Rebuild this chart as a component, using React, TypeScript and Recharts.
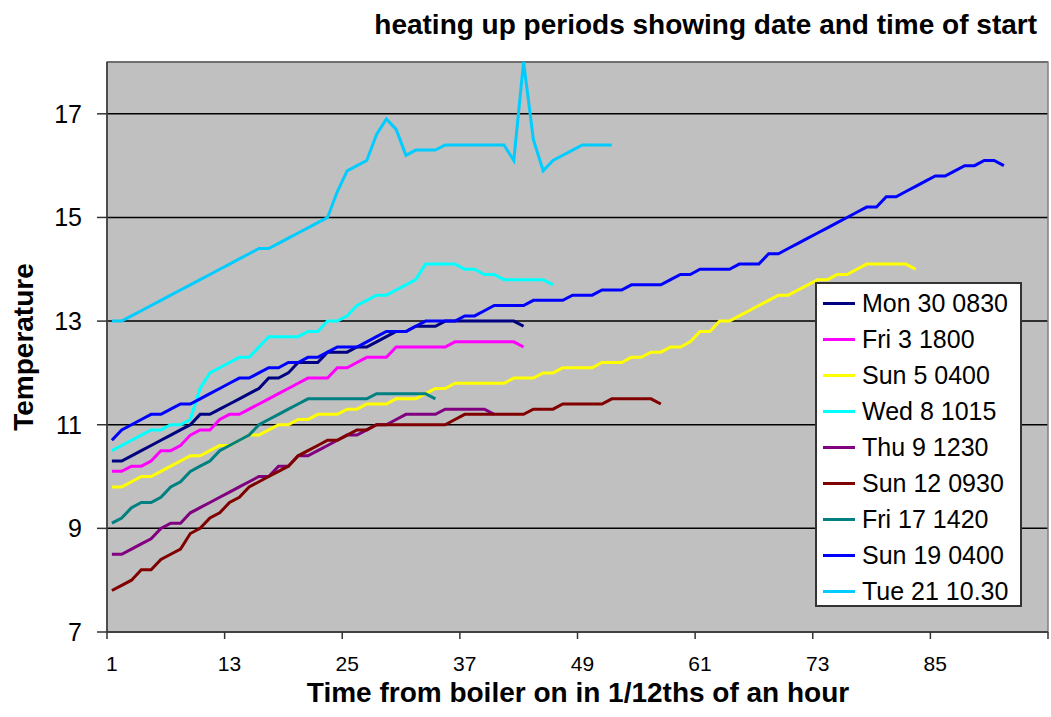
import React from "react";
import { LineChart, Line, XAxis, YAxis, CartesianGrid, ReferenceArea } from "recharts";

// time steps, 1/12ths of an hour after the boiler comes on
const categories = Array.from({ length: 96 }, (_, i) => i + 1);
const xTickLabels = [1, 13, 25, 37, 49, 61, 73, 85];
const yTicks = [7, 9, 11, 13, 15, 17];

const mon30 = [
  10.3, 10.3, 10.4, 10.5, 10.6, 10.7, 10.8, 10.9, 11.0, 11.2,
  11.2, 11.3, 11.4, 11.5, 11.6, 11.7, 11.9, 11.9, 12.0, 12.2,
  12.2, 12.2, 12.4, 12.4, 12.4, 12.5, 12.5, 12.6, 12.7, 12.8,
  12.8, 12.9, 12.9, 12.9, 13.0, 13.0, 13.0, 13.0, 13.0, 13.0,
  13.0, 13.0, 12.9,
];
const fri3 = [
  10.1, 10.1, 10.2, 10.2, 10.3, 10.5, 10.5, 10.6, 10.8, 10.9,
  10.9, 11.1, 11.2, 11.2, 11.3, 11.4, 11.5, 11.6, 11.7, 11.8,
  11.9, 11.9, 11.9, 12.1, 12.1, 12.2, 12.3, 12.3, 12.3, 12.5,
  12.5, 12.5, 12.5, 12.5, 12.5, 12.6, 12.6, 12.6, 12.6, 12.6,
  12.6, 12.6, 12.5,
];
const sun5 = [
  9.8, 9.8, 9.9, 10.0, 10.0, 10.1, 10.2, 10.3, 10.4, 10.4,
  10.5, 10.6, 10.6, 10.7, 10.8, 10.8, 10.9, 11.0, 11.0, 11.1,
  11.1, 11.2, 11.2, 11.2, 11.3, 11.3, 11.4, 11.4, 11.4, 11.5,
  11.5, 11.5, 11.6, 11.7, 11.7, 11.8, 11.8, 11.8, 11.8, 11.8,
  11.8, 11.9, 11.9, 11.9, 12.0, 12.0, 12.1, 12.1, 12.1, 12.1,
  12.2, 12.2, 12.2, 12.3, 12.3, 12.4, 12.4, 12.5, 12.5, 12.6,
  12.8, 12.8, 13.0, 13.0, 13.1, 13.2, 13.3, 13.4, 13.5, 13.5,
  13.6, 13.7, 13.8, 13.8, 13.9, 13.9, 14.0, 14.1, 14.1, 14.1,
  14.1, 14.1, 14.0,
];
const wed8 = [
  10.5, 10.6, 10.7, 10.8, 10.9, 10.9, 11.0, 11.0, 11.1, 11.7,
  12.0, 12.1, 12.2, 12.3, 12.3, 12.5, 12.7, 12.7, 12.7, 12.7,
  12.8, 12.8, 13.0, 13.0, 13.1, 13.3, 13.4, 13.5, 13.5, 13.6,
  13.7, 13.8, 14.1, 14.1, 14.1, 14.1, 14.0, 14.0, 13.9, 13.9,
  13.8, 13.8, 13.8, 13.8, 13.8, 13.7,
];
const thu9 = [
  8.5, 8.5, 8.6, 8.7, 8.8, 9.0, 9.1, 9.1, 9.3, 9.4,
  9.5, 9.6, 9.7, 9.8, 9.9, 10.0, 10.0, 10.2, 10.2, 10.4,
  10.4, 10.5, 10.6, 10.7, 10.8, 10.8, 10.9, 11.0, 11.0, 11.1,
  11.2, 11.2, 11.2, 11.2, 11.3, 11.3, 11.3, 11.3, 11.3, 11.2,
];
const sun12 = [
  7.8, 7.9, 8.0, 8.2, 8.2, 8.4, 8.5, 8.6, 8.9, 9.0,
  9.2, 9.3, 9.5, 9.6, 9.8, 9.9, 10.0, 10.1, 10.2, 10.4,
  10.5, 10.6, 10.7, 10.7, 10.8, 10.9, 10.9, 11.0, 11.0, 11.0,
  11.0, 11.0, 11.0, 11.0, 11.0, 11.1, 11.2, 11.2, 11.2, 11.2,
  11.2, 11.2, 11.2, 11.3, 11.3, 11.3, 11.4, 11.4, 11.4, 11.4,
  11.4, 11.5, 11.5, 11.5, 11.5, 11.5, 11.4,
];
const fri17 = [
  9.1, 9.2, 9.4, 9.5, 9.5, 9.6, 9.8, 9.9, 10.1, 10.2,
  10.3, 10.5, 10.6, 10.7, 10.8, 11.0, 11.1, 11.2, 11.3, 11.4,
  11.5, 11.5, 11.5, 11.5, 11.5, 11.5, 11.5, 11.6, 11.6, 11.6,
  11.6, 11.6, 11.6, 11.5,
];
const sun19 = [
  10.7, 10.9, 11.0, 11.1, 11.2, 11.2, 11.3, 11.4, 11.4, 11.5,
  11.6, 11.7, 11.8, 11.9, 11.9, 12.0, 12.1, 12.1, 12.2, 12.2,
  12.3, 12.3, 12.4, 12.5, 12.5, 12.5, 12.6, 12.7, 12.8, 12.8,
  12.8, 12.9, 13.0, 13.0, 13.0, 13.0, 13.1, 13.1, 13.2, 13.3,
  13.3, 13.3, 13.3, 13.4, 13.4, 13.4, 13.4, 13.5, 13.5, 13.5,
  13.6, 13.6, 13.6, 13.7, 13.7, 13.7, 13.7, 13.8, 13.9, 13.9,
  14.0, 14.0, 14.0, 14.0, 14.1, 14.1, 14.1, 14.3, 14.3, 14.4,
  14.5, 14.6, 14.7, 14.8, 14.9, 15.0, 15.1, 15.2, 15.2, 15.4,
  15.4, 15.5, 15.6, 15.7, 15.8, 15.8, 15.9, 16.0, 16.0, 16.1,
  16.1, 16.0,
];
const tue21 = [
  13.0, 13.0, 13.1, 13.2, 13.3, 13.4, 13.5, 13.6, 13.7, 13.8,
  13.9, 14.0, 14.1, 14.2, 14.3, 14.4, 14.4, 14.5, 14.6, 14.7,
  14.8, 14.9, 15.0, 15.5, 15.9, 16.0, 16.1, 16.6, 16.9, 16.7,
  16.2, 16.3, 16.3, 16.3, 16.4, 16.4, 16.4, 16.4, 16.4, 16.4,
  16.4, 16.1, 18.0, 16.5, 15.9, 16.1, 16.2, 16.3, 16.4, 16.4,
  16.4, 16.4,
];

const series = [
  { key: "mon30", name: "Mon 30 0830", values: mon30 },
  { key: "fri3", name: "Fri 3 1800", values: fri3 },
  { key: "sun5", name: "Sun 5 0400", values: sun5 },
  { key: "wed8", name: "Wed 8 1015", values: wed8 },
  { key: "thu9", name: "Thu 9 1230", values: thu9 },
  { key: "sun12", name: "Sun 12 0930", values: sun12 },
  { key: "fri17", name: "Fri 17 1420", values: fri17 },
  { key: "sun19", name: "Sun 19 0400", values: sun19 },
  { key: "tue21", name: "Tue 21 10.30", values: tue21 },
];

const colors: Record<string, string> = {
  mon30: "#000080",
  fri3: "#FF00FF",
  sun5: "#FFFF00",
  wed8: "#00FFFF",
  thu9: "#800080",
  sun12: "#800000",
  fri17: "#008080",
  sun19: "#0000FF",
  tue21: "#00CCFF",
};

const data = categories.map((t, i) => {
  const row: Record<string, number | undefined> = { t };
  series.forEach((s) => {
    row[s.key] = s.values[i];
  });
  return row;
});

// labels sit in the middle of a category, tick marks on the boundaries
const xTicks: number[] = [];
xTickLabels.forEach((v) => xTicks.push(v - 0.5, v));
xTicks.push(categories.length + 0.5);

const FONT = "'Liberation Sans', Arial, sans-serif";

const XTick = (props: any) => {
  const { x, y, payload } = props;
  const v = payload.value;
  if (v % 1 !== 0) {
    return <line x1={x} x2={x} y1={y} y2={y + 7} stroke="#333" strokeWidth={1.5} />;
  }
  return (
    <text x={x} y={y + 39} textAnchor="middle" fontSize={21} fill="#000" fontFamily={FONT}>
      {v}
    </text>
  );
};

export default function App() {
  return (
    <div style={{ position: "absolute", left: 0, top: 0, width: 1051, height: 717, background: "#fff" }}>
      <LineChart width={1051} height={717} data={data} margin={{ top: 62, right: 3, bottom: 0, left: 0 }}>
        <CartesianGrid vertical={false} stroke="#000" strokeWidth={1.5} fill="#C0C0C0" fillOpacity={1} />
        <ReferenceArea x1={0.5} x2={96.5} y1={7} y2={18} fill="none" stroke="#808080" strokeWidth={1.5} ifOverflow="visible" />
        <XAxis
          dataKey="t"
          type="number"
          domain={[0.5, 96.5]}
          ticks={xTicks}
          interval={0}
          height={85}
          tickSize={0}
          tickMargin={0}
          tickLine={false}
          axisLine={{ stroke: "#333", strokeWidth: 1.5 }}
          tick={<XTick />}
        />
        <YAxis
          type="number"
          domain={[7, 18]}
          ticks={yTicks}
          interval={0}
          width={107}
          tickSize={10}
          tickMargin={15}
          axisLine={{ stroke: "#333", strokeWidth: 1.5 }}
          tickLine={{ stroke: "#333", strokeWidth: 1.5 }}
          tick={{ fontSize: 25, fill: "#000", fontFamily: FONT }}
        />
        {series.map((s) => (
          <Line
            key={s.key}
            dataKey={s.key}
            name={s.name}
            type="linear"
            stroke={colors[s.key]}
            strokeWidth={3}
            dot={false}
            activeDot={false}
            isAnimationActive={false}
          />
        ))}
      </LineChart>

      <svg width={1051} height={717} style={{ position: "absolute", left: 0, top: 0, pointerEvents: "none" }}>
        <text x={1037} y={34} textAnchor="end" fontSize={28} fontWeight="bold" fontFamily={FONT} fill="#000">
          heating up periods showing date and time of start
        </text>
        <text x={578} y={702} textAnchor="middle" fontSize={28} fontWeight="bold" fontFamily={FONT} fill="#000">
          Time from boiler on in 1/12ths of an hour
        </text>
        <text
          x={33}
          y={347}
          textAnchor="middle"
          fontSize={28}
          fontWeight="bold"
          fontFamily={FONT}
          fill="#000"
          transform="rotate(-90 33 347)"
        >
          Temperature
        </text>
      </svg>

      <div
        style={{
          position: "absolute",
          left: 815,
          top: 282,
          width: 207,
          height: 325,
          boxSizing: "border-box",
          background: "#fff",
          border: "2px solid #333",
          paddingTop: 1,
          fontFamily: FONT,
          fontSize: 25,
          color: "#000",
        }}
      >
        {series.map((s) => (
          <div key={s.key} style={{ height: 36, display: "flex", alignItems: "center" }}>
            <span style={{ display: "inline-block", width: 32, height: 3, marginLeft: 6, marginRight: 7, background: colors[s.key] }} />
            <span style={{ whiteSpace: "nowrap" }}>{s.name}</span>
          </div>
        ))}
      </div>
    </div>
  );
}
